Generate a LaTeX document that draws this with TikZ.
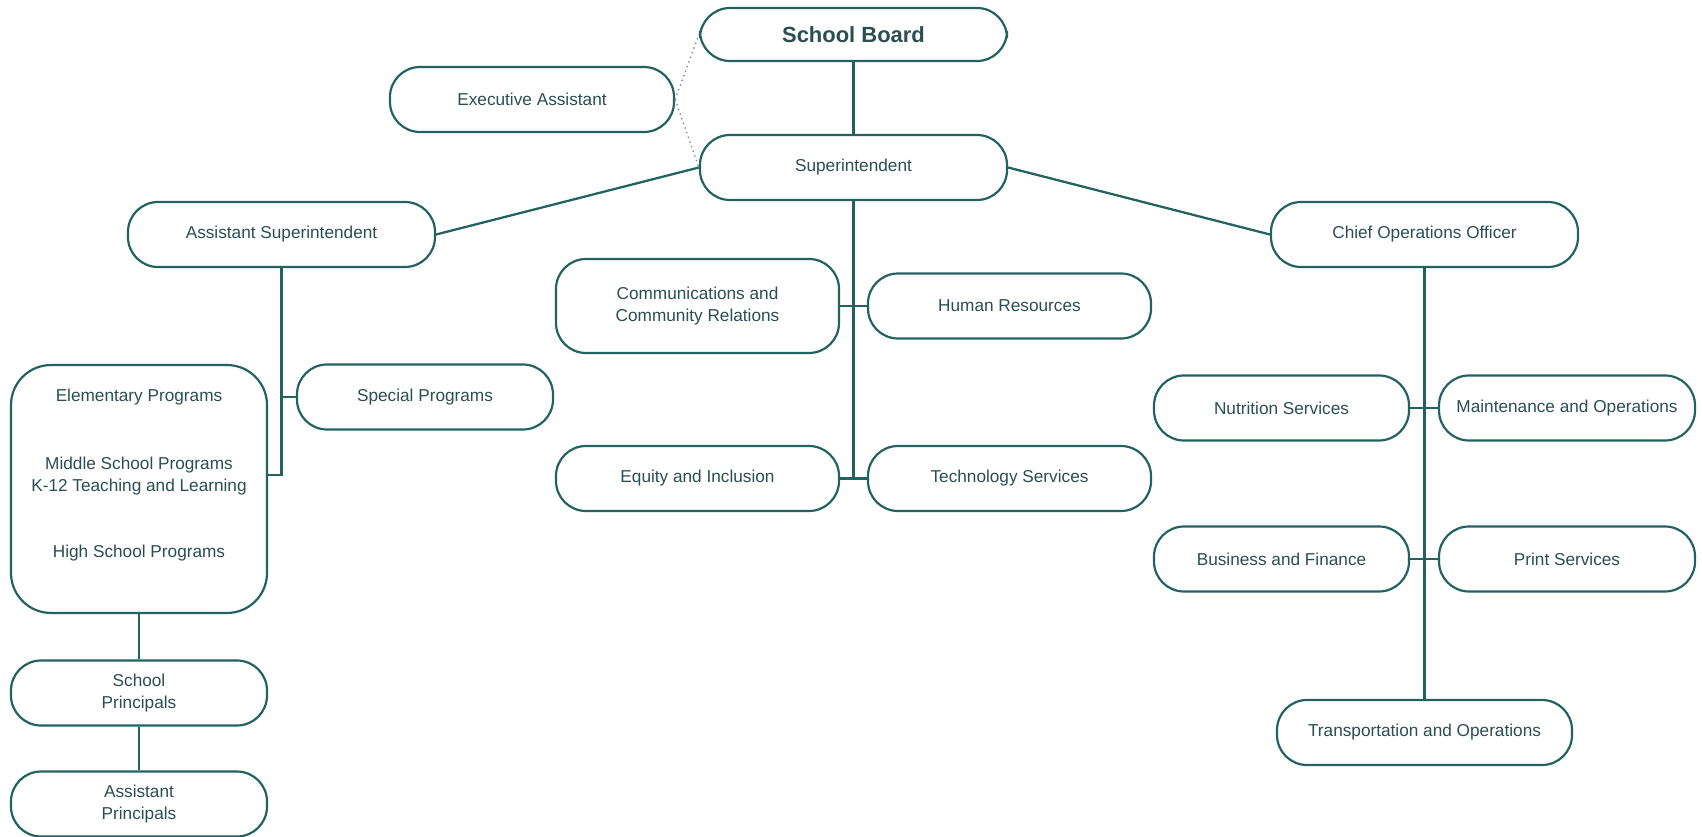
\documentclass[tikz,border=0pt]{standalone}
\usepackage{fontspec}
\setmainfont{Liberation Sans}
\definecolor{tealline}{RGB}{36,98,98}
\definecolor{tealtext}{RGB}{42,78,82}
\begin{document}
\begin{tikzpicture}[x=0.02cm,y=-0.02cm,
  box/.style={draw=tealline,line width=1.25pt,rounded corners=0.6cm,text=tealtext,
     font=\fontsize{9.8}{13}\selectfont,align=center,inner sep=0pt,
     minimum width=#1*0.02cm,minimum height=1.3cm},
  box/.default=256,
  conn/.style={draw=tealline,line width=1.3pt},
  dotconn/.style={draw=gray!90,line width=0.8pt,dotted},
  lbl/.style={text=tealtext,font=\fontsize{9.8}{13}\selectfont,inner sep=0pt}]
\useasboundingbox (0,0) rectangle (1702,837);
% top
\node[box=307,minimum height=1.06cm,font=\fontsize{12.5}{15}\selectfont\bfseries] (sb) at (853.5,34.5) {School Board};
\node[box=284] (ea) at (532,99.5) {Executive Assistant};
\node[box=307] (sup) at (853.5,167.5) {Superintendent};
\node[box=307] (as) at (281.5,234.5) {Assistant Superintendent};
\node[box=307] (coo) at (1424.5,234.5) {Chief Operations Officer};
% middle
\node[box=283,minimum height=1.88cm] (comm) at (697.5,306) {Communications and\\Community Relations};
\node[box=283] (hr) at (1009.5,306) {Human Resources};
\node[box=283] (eq) at (697.5,478.5) {Equity and Inclusion};
\node[box=283] (tech) at (1009.5,478.5) {Technology Services};
% left
\node[box=256,minimum height=4.96cm,rounded corners=0.8cm] (elem) at (139,489) {};
\node[lbl] (elem1) at (139,397) {Elementary Programs};
\node[lbl] (elem2) at (139,465) {Middle School Programs};
\node[lbl] (elem3) at (139,487) {K-12 Teaching and Learning};
\node[lbl] (elem4) at (139,553) {High School Programs};
\node[box=256] (sp) at (425,397) {Special Programs};
\node[box=256] (spr) at (139,693) {School\\Principals};
\node[box=256] (apr) at (139,804) {Assistant\\Principals};
% right
\node[box=255] (nut) at (1281.5,408) {Nutrition Services};
\node[box=256] (mo) at (1567,408) {Maintenance and Operations};
\node[box=255] (bf) at (1281.5,559) {Business and Finance};
\node[box=256] (ps) at (1567,559) {Print Services};
\node[box=295] (tr) at (1424.5,732.5) {Transportation and Operations};
% connectors
\draw[conn] (sb.south) -- (sup.north);
\draw[dotconn] (ea.east) -- (sb.west);
\draw[dotconn] (ea.east) -- (sup.west);
\draw[conn] (sup.west) -- (as.east);
\draw[conn] (sup.east) -- (coo.west);
\draw[conn] (sup.south) -- (sup.south |- eq.east);
\draw[conn] (comm.east) -- (hr.west);
\draw[conn] (eq.east) -- (tech.west);
\draw[conn] (as.south) |- ([yshift=0.28cm]elem.east);
\draw[conn] (as.south |- sp.west) -- (sp.west);
\draw[conn] (elem.south) -- (spr.north);
\draw[conn] (spr.south) -- (apr.north);
\draw[conn] (coo.south) -- (tr.north);
\draw[conn] (nut.east) -- (mo.west);
\draw[conn] (bf.east) -- (ps.west);
\end{tikzpicture}
\end{document}
